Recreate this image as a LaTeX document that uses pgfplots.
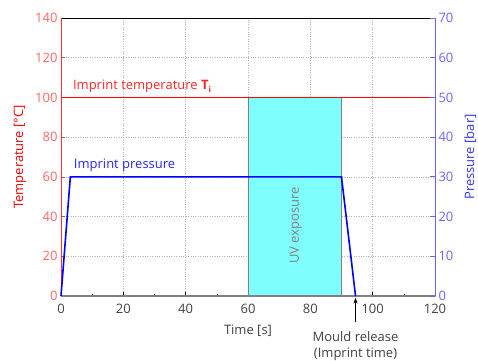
\documentclass[border=0pt]{standalone}
\usepackage{pgfplots}
\pgfplotsset{compat=1.18}
\usetikzlibrary{arrows.meta}
\usepackage{fontspec}
\setmainfont{Open Sans}
\definecolor{tempred}{HTML}{FF0000}
\definecolor{templabel}{HTML}{FF6666}
\definecolor{presblue}{HTML}{0000FF}
\definecolor{preslabel}{HTML}{6666FF}
\definecolor{uvcyan}{HTML}{80FFFF}
\definecolor{txtgray}{HTML}{404040}
\pgfplotsset{
  frame geometry/.style={
    at={(0pt,0pt)}, anchor=south west,
    scale only axis, width=374pt, height=278pt,
    xmin=0, xmax=120, clip=false,
  },
}

\begin{document}
\begin{tikzpicture}
\path[use as bounding box] (-61pt,-64pt) rectangle (417pt,296pt);
% temperature scale, time scale and grid
\begin{axis}[
  frame geometry, ymin=0, ymax=140,
  xtick={0,20,...,120}, ytick={0,20,...,140},
  minor x tick num=1,
  axis x line*=bottom, axis y line*=left,
  axis line style={draw=none},
  /pgf/number format/assume math mode=true,
  tick align=inside,
  major tick length=4pt, minor tick length=2.5pt,
  x tick style={black, line width=0.5pt},
  y tick style={tempred!80, line width=0.6pt},
  grid=major, grid style={dotted, gray!60, line width=0.5pt},
  tick label style={font=\fontsize{13}{15}\selectfont},
  x tick label style={txtgray, yshift=-5pt},
  y tick label style={templabel},
  xlabel={Time [s]}, xlabel style={txtgray, font=\fontsize{13}{15}\selectfont, yshift=-4pt},
  ylabel={Temperature [°C]}, ylabel style={tempred, font=\fontsize{13}{15}\selectfont, yshift=2pt},
]
\end{axis}
% temperature data and frame
\begin{axis}[frame geometry, ymin=0, ymax=140, axis line style={draw=none}, xtick=\empty, ytick=\empty]
% UV exposure window
\addplot[fill=uvcyan, draw=gray, line width=0.5pt, mark=none] coordinates {(60,0) (60,100) (90,100) (90,0) (60,0)};
% imprint temperature
\addplot[color=red, line width=1.8pt, mark=none] coordinates {(0,100) (120,100)};
\draw[black, line width=0.6pt] (rel axis cs:0,1) -- (rel axis cs:1,1);
\draw[red!80, line width=0.6pt] (rel axis cs:0,0) -- (rel axis cs:0,1);
\draw[gray, line width=1.8pt] (rel axis cs:0,0) -- (rel axis cs:1,0);
\end{axis}
% pressure axis (right)
\begin{axis}[
  frame geometry, ymin=0, ymax=70,
  ytick={0,10,...,70},
  hide x axis,
  axis y line*=right,
  axis line style={draw=none},
  /pgf/number format/assume math mode=true,
  tick align=inside, major tick length=5pt,
  y tick style={preslabel, line width=0.8pt},
  y tick label style={preslabel, font=\fontsize{13}{15}\selectfont},
  ylabel={Pressure [bar]}, ylabel style={presblue!80, font=\fontsize{13}{15}\selectfont, yshift=-4pt},
]
% imprint pressure profile
\addplot[draw=blue, line width=1.6pt, mark=none] coordinates {(0,0) (3,30) (90,30) (94.5,0)};
\draw[preslabel, line width=0.8pt] (rel axis cs:1,0) -- (rel axis cs:1,1);
\end{axis}
% annotations and mould release marker
\begin{axis}[frame geometry, ymin=0, ymax=140, hide axis]
\draw[-{Stealth[length=6pt,width=4pt]}, black, line width=0.8pt] (axis cs:94.5,-13) -- (axis cs:94.5,-0.8);
\node[rotate=90, text=gray, font=\fontsize{13}{15}\selectfont] at (axis cs:75.3,35.5) {UV exposure};
\node[anchor=base west, text=tempred!85, font=\fontsize{13}{15}\selectfont, inner sep=0pt]
  at (axis cs:3.8,104) {Imprint temperature \textbf{T}\raisebox{-0.4ex}{\fontsize{8}{9}\selectfont\textbf{i}}};
\node[anchor=base west, text=presblue!85, font=\fontsize{13}{15}\selectfont, inner sep=0pt]
  at (axis cs:4.1,64) {Imprint pressure};
\node[align=center, text=txtgray, font=\fontsize{13}{16}\selectfont, anchor=north] at (axis cs:94.5,-16) {Mould release\\(Imprint time)};
\end{axis}
\end{tikzpicture}
\end{document}
